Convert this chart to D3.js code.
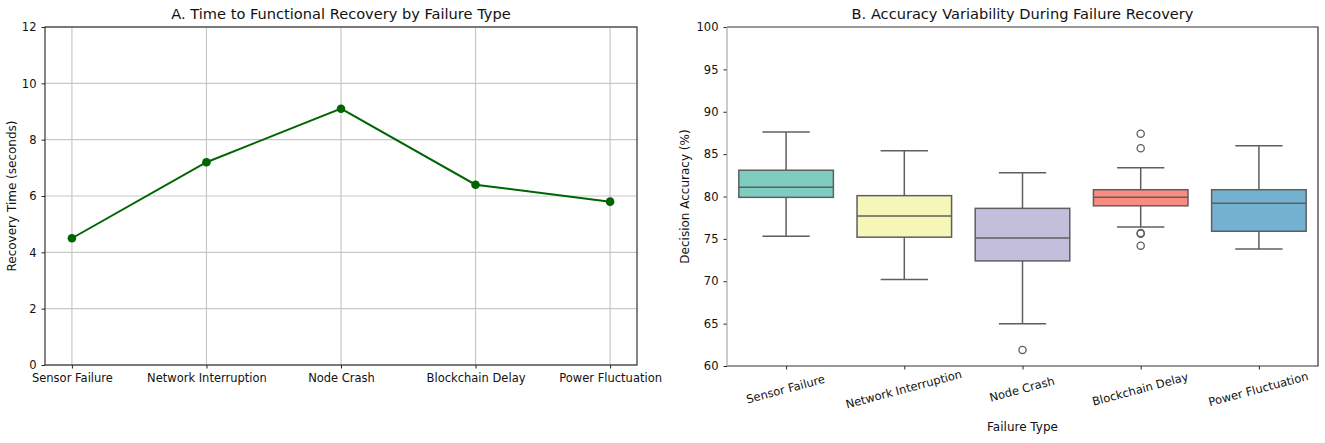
<!DOCTYPE html>
<html>
<head>
<meta charset="utf-8">
<script src="https://cdn.jsdelivr.net/npm/d3@7"></script>
<style>
  body { margin: 0; background: #fff; }
  text { font-family: 'DejaVu Sans', sans-serif; fill: #111; }
</style>
</head>
<body>
<div id="app"></div>
<script>
(function(d3) {

  'use strict'

  // failure types (shared by both panels)
  const categories = ['Sensor Failure', 'Network Interruption', 'Node Crash', 'Blockchain Delay', 'Power Fluctuation']

  // panel A: recovery time in seconds
  const recoveryTimes = [4.5, 7.2, 9.1, 6.4, 5.8]
  const recoveryTicks = [0, 2, 4, 6, 8, 10, 12]

  // panel B: box plot stats for decision accuracy (%)
  const whiskerLow = [75.3, 70.2, 65.0, 76.4, 73.8]
  const q1 = [79.9, 75.2, 72.4, 78.9, 75.9]
  const medians = [81.1, 77.7, 75.1, 79.9, 79.2]
  const q3 = [83.1, 80.1, 78.6, 80.8, 80.8]
  const whiskerHigh = [87.6, 85.4, 82.8, 83.4, 86.0]
  const outliers = [[], [], [61.9], [87.4, 85.7, 75.7, 75.6, 74.2], []]
  const boxColors = ['#7fcdc1', '#f6f6b9', '#c3bedb', '#fa8b7f', '#74b1d0']
  const accuracyTicks = [60, 65, 70, 75, 80, 85, 90, 95, 100]

  const width = 1325
  const height = 443

  const svg = d3.select('#app')
                .append('svg')
                .attr('width', width)
                .attr('height', height)

  // ---------- panel A ----------
  const a = {left: 45, right: 637, top: 27, bottom: 365}

  const xA = d3.scaleLinear()
               .domain([-0.2, categories.length - 1 + 0.2])
               .range([a.left, a.right])
  const yA = d3.scaleLinear()
               .domain([0, 12])
               .range([a.bottom, a.top])

  const gA = svg.append('g')

  // grid
  gA.append('g')
    .selectAll('line')
    .data(recoveryTicks)
    .enter()
    .append('line')
    .attr('x1', a.left).attr('x2', a.right)
    .attr('y1', function(d) { return yA(d) })
    .attr('y2', function(d) { return yA(d) })
    .style('stroke', '#c8c8c8')
    .style('stroke-width', 1.2)
  gA.append('g')
    .selectAll('line')
    .data(categories)
    .enter()
    .append('line')
    .attr('y1', a.top).attr('y2', a.bottom)
    .attr('x1', function(d, i) { return xA(i) })
    .attr('x2', function(d, i) { return xA(i) })
    .style('stroke', '#c8c8c8')
    .style('stroke-width', 1.2)

  // axes
  const xAxisA = d3.axisBottom(xA)
                   .tickValues(d3.range(categories.length))
                   .tickFormat(function(i) { return categories[i] })
                   .tickSizeOuter(0)
                   .tickSize(3.5)
                   .tickPadding(5)
  gA.append('g')
    .attr('transform', 'translate(0,' + a.bottom + ')')
    .call(xAxisA)
    .style('font-size', '11.5px')

  const yAxisA = d3.axisLeft(yA)
                   .tickValues(recoveryTicks)
                   .tickSizeOuter(0)
                   .tickSize(3.5)
                   .tickPadding(5)
  gA.append('g')
    .attr('transform', 'translate(' + a.left + ',0)')
    .call(yAxisA)
    .style('font-size', '11.5px')

  gA.selectAll('.domain').remove()
  gA.selectAll('.tick line').style('stroke', '#222')
  gA.selectAll('.tick text').style('fill', '#111').style('font-family', "'DejaVu Sans', sans-serif")

  gA.append('rect')
    .attr('x', a.left).attr('y', a.top)
    .attr('width', a.right - a.left).attr('height', a.bottom - a.top)
    .style('fill', 'none')
    .style('stroke', '#333')
    .style('stroke-width', 1.2)

  // line + markers
  const line = d3.line()
                 .x(function(d, i) { return xA(i) })
                 .y(function(d) { return yA(d) })
  gA.append('path')
    .datum(recoveryTimes)
    .attr('d', line)
    .style('fill', 'none')
    .style('stroke', '#006400')
    .style('stroke-width', 2)
  gA.selectAll('circle')
    .data(recoveryTimes)
    .enter()
    .append('circle')
    .attr('cx', function(d, i) { return xA(i) })
    .attr('cy', function(d) { return yA(d) })
    .attr('r', 4.3)
    .style('fill', '#006400')

  gA.append('text')
    .attr('x', (a.left + a.right) / 2)
    .attr('y', 19)
    .attr('text-anchor', 'middle')
    .style('font-size', '14.6px')
    .text('A. Time to Functional Recovery by Failure Type')

  gA.append('text')
    .attr('transform', 'translate(16,' + (a.top + a.bottom) / 2 + ') rotate(-90)')
    .attr('text-anchor', 'middle')
    .style('font-size', '12px')
    .text('Recovery Time (seconds)')

  // ---------- panel B ----------
  const b = {left: 727, right: 1318, top: 27, bottom: 366}

  const xB = d3.scaleLinear()
               .domain([-0.5, categories.length - 0.5])
               .range([b.left, b.right])
  const yB = d3.scaleLinear()
               .domain([60, 100])
               .range([b.bottom, b.top])
  const unit = xB(1) - xB(0)
  const boxW = unit * 0.8
  const capW = unit * 0.4

  const boxes = categories.map(function(c, i) {
    return {name: c, i: i, lo: whiskerLow[i], q1: q1[i], med: medians[i], q3: q3[i], hi: whiskerHigh[i], out: outliers[i], color: boxColors[i]}
  })

  const gB = svg.append('g')
  const stroke = '#5f5f5f'

  const box = gB.selectAll('g.box')
                .data(boxes)
                .enter()
                .append('g')
                .attr('class', 'box')

  // whiskers
  box.append('line')
     .attr('x1', function(d) { return xB(d.i) }).attr('x2', function(d) { return xB(d.i) })
     .attr('y1', function(d) { return yB(d.lo) }).attr('y2', function(d) { return yB(d.q1) })
     .style('stroke', stroke).style('stroke-width', 1.5)
  box.append('line')
     .attr('x1', function(d) { return xB(d.i) }).attr('x2', function(d) { return xB(d.i) })
     .attr('y1', function(d) { return yB(d.q3) }).attr('y2', function(d) { return yB(d.hi) })
     .style('stroke', stroke).style('stroke-width', 1.5)
  box.append('line')
     .attr('x1', function(d) { return xB(d.i) - capW / 2 }).attr('x2', function(d) { return xB(d.i) + capW / 2 })
     .attr('y1', function(d) { return yB(d.lo) }).attr('y2', function(d) { return yB(d.lo) })
     .style('stroke', stroke).style('stroke-width', 1.5)
  box.append('line')
     .attr('x1', function(d) { return xB(d.i) - capW / 2 }).attr('x2', function(d) { return xB(d.i) + capW / 2 })
     .attr('y1', function(d) { return yB(d.hi) }).attr('y2', function(d) { return yB(d.hi) })
     .style('stroke', stroke).style('stroke-width', 1.5)

  box.append('rect')
     .attr('x', function(d) { return xB(d.i) - boxW / 2 })
     .attr('width', boxW)
     .attr('y', function(d) { return yB(d.q3) })
     .attr('height', function(d) { return yB(d.q1) - yB(d.q3) })
     .style('fill', function(d) { return d.color })
     .style('stroke', stroke).style('stroke-width', 1.5)

  box.append('line')
     .attr('x1', function(d) { return xB(d.i) - boxW / 2 }).attr('x2', function(d) { return xB(d.i) + boxW / 2 })
     .attr('y1', function(d) { return yB(d.med) }).attr('y2', function(d) { return yB(d.med) })
     .style('stroke', stroke).style('stroke-width', 1.5)

  box.selectAll('circle')
     .data(function(d) { return d.out.map(function(v) { return {i: d.i, v: v} }) })
     .enter()
     .append('circle')
     .attr('cx', function(d) { return xB(d.i) })
     .attr('cy', function(d) { return yB(d.v) })
     .attr('r', 3.6)
     .style('fill', 'none')
     .style('stroke', stroke)
     .style('stroke-width', 1.3)

  // axes
  const xAxisB = d3.axisBottom(xB)
                   .tickValues(d3.range(categories.length))
                   .tickFormat(function(i) { return categories[i] })
                   .tickSizeOuter(0)
                   .tickSize(3.5)
  const xg = gB.append('g')
               .attr('transform', 'translate(0,' + b.bottom + ')')
               .call(xAxisB)
               .style('font-size', '11.5px')
  xg.selectAll('.tick text')
    .attr('y', 0)
    .attr('dy', 0)
    .attr('text-anchor', 'middle')
    .attr('transform', 'translate(0,27) rotate(-15)')

  const yAxisB = d3.axisLeft(yB)
                   .tickValues(accuracyTicks)
                   .tickSizeOuter(0)
                   .tickSize(3.5)
                   .tickPadding(5)
  gB.append('g')
    .attr('transform', 'translate(' + b.left + ',0)')
    .call(yAxisB)
    .style('font-size', '11.5px')

  gB.selectAll('.domain').remove()
  gB.selectAll('.tick line').style('stroke', '#222')
  gB.selectAll('.tick text').style('fill', '#111').style('font-family', "'DejaVu Sans', sans-serif")

  // spines: left one lighter like the reference
  gB.append('path')
    .attr('d', 'M' + b.left + ',' + b.top + 'H' + b.right + 'V' + b.bottom + 'H' + b.left)
    .style('fill', 'none')
    .style('stroke', '#333')
    .style('stroke-width', 1.2)
  gB.append('line')
    .attr('x1', b.left).attr('x2', b.left)
    .attr('y1', b.top).attr('y2', b.bottom)
    .style('stroke', '#a8a8a8')
    .style('stroke-width', 1.2)

  gB.append('text')
    .attr('x', (b.left + b.right) / 2)
    .attr('y', 19)
    .attr('text-anchor', 'middle')
    .style('font-size', '14.6px')
    .text('B. Accuracy Variability During Failure Recovery')

  gB.append('text')
    .attr('transform', 'translate(689,' + (b.top + b.bottom) / 2 + ') rotate(-90)')
    .attr('text-anchor', 'middle')
    .style('font-size', '12px')
    .text('Decision Accuracy (%)')

  gB.append('text')
    .attr('x', (b.left + b.right) / 2)
    .attr('y', 431)
    .attr('text-anchor', 'middle')
    .style('font-size', '12px')
    .text('Failure Type')

})(d3)
</script>
</body>
</html>
